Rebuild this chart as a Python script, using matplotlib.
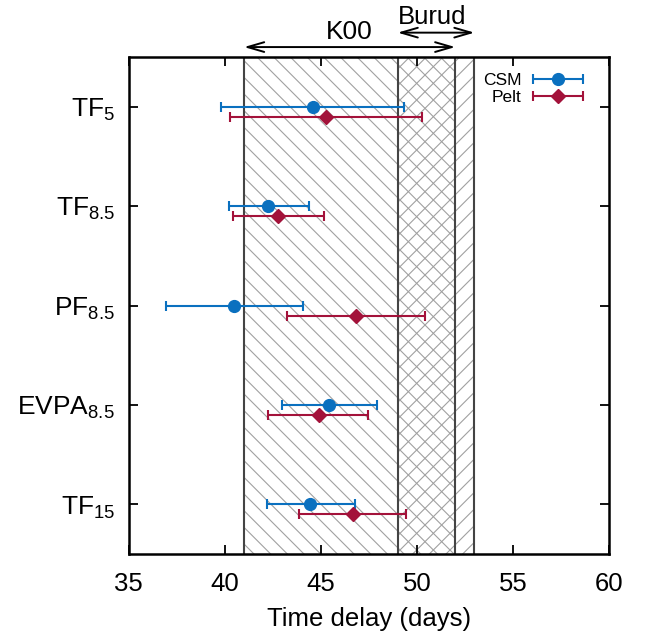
import matplotlib
matplotlib.use("Agg")
import matplotlib.pyplot as plt
from matplotlib.legend_handler import HandlerErrorbar
import numpy as np

plt.rcParams['font.family'] = ['Liberation Sans', 'DejaVu Sans']
plt.rcParams['mathtext.fontset'] = 'custom'
plt.rcParams['mathtext.rm'] = 'Liberation Sans'
plt.rcParams['mathtext.it'] = 'Liberation Sans'
plt.rcParams['mathtext.bf'] = 'Liberation Sans'
plt.rcParams['hatch.linewidth'] = 0.8

categories = [r'TF$_{5}$', r'TF$_{8.5}$', r'PF$_{8.5}$', r'EVPA$_{8.5}$', r'TF$_{15}$']
csm_val = [44.57, 42.27, 40.49, 45.45, 44.45]
csm_lo = [39.79, 40.21, 36.91, 42.97, 42.19]
csm_hi = [49.34, 44.38, 44.06, 47.95, 46.77]
pelt_val = [45.28, 42.78, 46.84, 44.88, 46.67]
pelt_lo = [40.28, 40.40, 43.26, 42.27, 43.87]
pelt_hi = [50.26, 45.16, 50.43, 47.45, 49.43]

k00_range = (41, 52)
burud_range = (49, 53)
xticks = [35, 40, 45, 50, 55, 60]

blue = '#0a70bf'
red = '#a3123a'

fig = plt.figure(figsize=(6.54, 6.37), dpi=100)
ax = fig.add_axes([0.197, 0.130, 0.734, 0.7805])

y = np.arange(len(categories))
ax.set_ylim(4.5, -0.5)
ax.set_xlim(35, 60)

# hatched regions
ax.axvspan(*k00_range, facecolor='none', edgecolor='#a0a0a0', hatch='\\\\', linewidth=0, zorder=0)
ax.axvspan(*burud_range, facecolor='none', edgecolor='#a0a0a0', hatch='//', linewidth=0, zorder=0)
for xv in sorted(set(k00_range + burud_range)):
    ax.axvline(xv, color='#444444', lw=1.5, zorder=1)

csm_val_a = np.array(csm_val)
pelt_val_a = np.array(pelt_val)
csm_err = [csm_val_a - np.array(csm_lo), np.array(csm_hi) - csm_val_a]
pelt_err = [pelt_val_a - np.array(pelt_lo), np.array(pelt_hi) - pelt_val_a]

ax.errorbar(csm_val, y, xerr=csm_err, fmt='o', color=blue, ms=8.5, lw=1.5,
            capsize=3.8, capthick=1.5, elinewidth=1.5, label='CSM', zorder=3)
ax.errorbar(pelt_val, y + 0.1, xerr=pelt_err, fmt='D', color=red, ms=7.5, lw=1.5,
            capsize=3.8, capthick=1.5, elinewidth=1.5, label='Pelt', zorder=3)

ax.set_yticks(y)
ax.set_yticklabels(categories, fontsize=19)
ax.set_xticks(xticks)
ax.set_xticklabels([str(t) for t in xticks], fontsize=18.5)
ax.set_xlabel('Time delay (days)', fontsize=18.5, labelpad=8)
ax.tick_params(direction='in', length=6.5, width=1.3, top=True, right=True)
ax.tick_params(axis='x', pad=13)
ax.tick_params(axis='y', pad=10)
for s in ax.spines.values():
    s.set_linewidth(1.8)

leg = ax.legend(loc='upper right', bbox_to_anchor=(0.981, 1.0), frameon=False,
                markerfirst=False, fontsize=12.5,
                handlelength=3.0, handletextpad=0.6, labelspacing=0.1,
                borderaxespad=0.5,
                handler_map={type(ax.containers[0]): HandlerErrorbar(xerr_size=1.45)})

# arrows above axes
trans = ax.get_xaxis_transform()
aprops = dict(arrowstyle='<->,head_length=1.2,head_width=0.35', lw=1.4, color='black',
              shrinkA=0, shrinkB=0)
ax.annotate('', xy=(k00_range[0], 1.020), xytext=(k00_range[1], 1.020), xycoords=trans,
            textcoords=trans, arrowprops=aprops, annotation_clip=False)
ax.annotate('', xy=(burud_range[0], 1.049), xytext=(burud_range[1], 1.049), xycoords=trans,
            textcoords=trans, arrowprops=aprops, annotation_clip=False)
ax.text(np.mean(k00_range), 1.026, 'K00', transform=trans, ha='center', va='bottom', fontsize=19)
ax.text(np.mean(burud_range) - 0.2, 1.056, 'Burud', transform=trans, ha='center', va='bottom', fontsize=18.5)

fig.savefig('out.png', dpi=100)
